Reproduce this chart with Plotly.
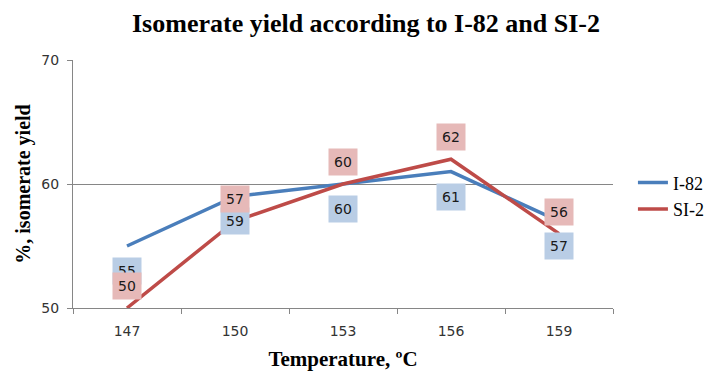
import plotly.graph_objects as go

temps = ["147", "150", "153", "156", "159"]
i82 = [55, 59, 60, 61, 57]
si2 = [50, 57, 60, 62, 56]

blue = "#4A7EBB"
red = "#BE4B48"
blue_bg = "#B9CDE5"
red_bg = "#E6B9B8"

fig = go.Figure()
fig.add_trace(go.Scatter(x=temps, y=i82, mode="lines", name="I-82",
                         line=dict(color=blue, width=3.5)))
fig.add_trace(go.Scatter(x=temps, y=si2, mode="lines", name="SI-2",
                         line=dict(color=red, width=3.5)))

annos = []
for i, v in enumerate(i82):
    annos.append(dict(x=i, y=v, xref="x", yref="y", text=str(v), showarrow=False,
                      yshift=-25, bgcolor=blue_bg, borderpad=5,
                      font=dict(family="DejaVu Sans", size=14, color="#1a1a1a")))
for i, v in enumerate(si2):
    annos.append(dict(x=i, y=v, xref="x", yref="y", text=str(v), showarrow=False,
                      yshift=22, bgcolor=red_bg, borderpad=5,
                      font=dict(family="DejaVu Sans", size=14, color="#1a1a1a")))

fig.update_layout(
    width=720, height=371,
    margin=dict(l=73, r=106, t=60, b=63),
    paper_bgcolor="white", plot_bgcolor="white",
    title=dict(text="<b>Isomerate yield according to I-82 and SI-2</b>",
               x=366/720, xref="container", xanchor="center",
               y=1 - 23/371, yref="container", yanchor="middle",
               font=dict(family="Liberation Serif", size=26, color="black")),
    annotations=annos,
    legend=dict(x=1.035, y=0.452, xanchor="left", yanchor="middle",
                font=dict(family="Liberation Serif", size=18, color="black"),
                tracegroupgap=0, itemwidth=30),
    showlegend=True,
)
fig.update_xaxes(type="category", range=[-0.5, 4.5], tickson="boundaries",
                 ticks="outside", ticklen=5, tickcolor="#868686",
                 showline=True, linecolor="#868686", linewidth=1,
                 showgrid=False, zeroline=False, ticklabelstandoff=10,
                 automargin=False,
                 tickfont=dict(family="DejaVu Sans", size=14, color="#333"),
                 title=dict(text="<b>Temperature, ºC</b>", standoff=24,
                            font=dict(family="Liberation Serif", size=21, color="black")))
fig.update_yaxes(range=[50, 70], tickvals=[50, 60, 70],
                 ticks="outside", ticklen=5, tickcolor="#868686",
                 showline=True, linecolor="#868686", linewidth=1,
                 showgrid=True, gridcolor="#868686", gridwidth=1, zeroline=False,
                 ticklabelstandoff=5, automargin=False,
                 tickfont=dict(family="DejaVu Sans", size=14, color="#333"),
                 title=dict(text="<b>%, isomerate yield</b>", standoff=5,
                            font=dict(family="Liberation Serif", size=20, color="black")))

fig.write_html("out.html", config={"displayModeBar": False},
               post_script="document.body.style.margin='0';")
